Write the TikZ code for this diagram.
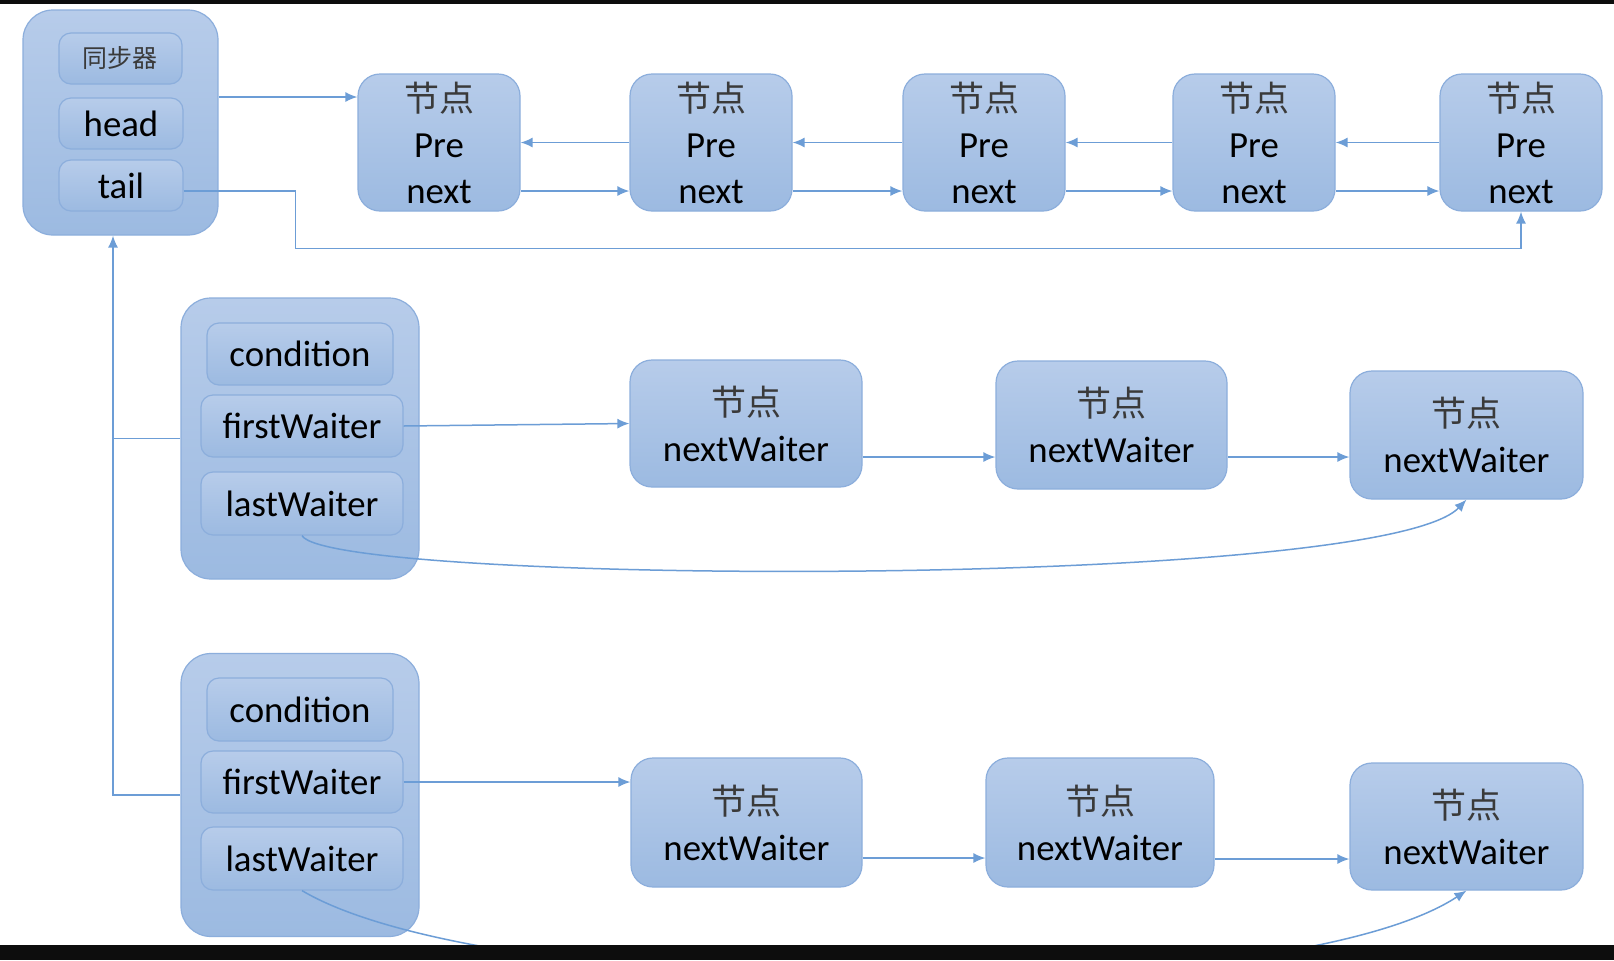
\documentclass[tikz,border=0pt]{standalone}
\usepackage{fontspec}
\setmainfont{Carlito}
\newfontfamily\cjk{Noto Sans CJK SC}
\usepackage{xcolor}
\usepackage{tikz}
\usetikzlibrary{calc,arrows.meta}

\definecolor{boxtop}{HTML}{B7CCEA}
\definecolor{boxbot}{HTML}{9CBAE1}
\definecolor{boxline}{HTML}{8CAEDC}
\definecolor{linkblue}{HTML}{6C9DD6}
\definecolor{cjkgray}{HTML}{3A3A3A}

\newcommand{\jiedian}{{\cjk\color{cjkgray}\fontsize{17.5}{23}\selectfont 节点}}

\tikzset{
  box/.style={draw=boxline, line width=0.6pt, top color=boxtop, bottom color=boxbot,
    rounded corners=11pt, inner sep=0, align=center, font=\fontsize{18.4}{23}\selectfont},
  field/.style={box, rounded corners=6pt},
  holder/.style={box, rounded corners=15pt},
  wire/.style={draw=linkblue, line width=0.75pt},
  link/.style={wire, -{Latex[length=6pt,width=5pt]}},
}

\begin{document}
\begin{tikzpicture}[x=0.5pt, y=-0.5pt]

        \fill[white] (0,0) rectangle (1614,960);
        \useasboundingbox (0,0) rectangle (1614,960);

        % synchronizer
        \node [holder, minimum width=97.5pt, minimum height=112.5pt] (sync) at (120.5,122.5) {};
        \node [field, minimum width=61.5pt, minimum height=25.5pt] (name) at (120.5,58.5)
          {\cjk\color{cjkgray}\fontsize{12.5}{14}\selectfont 同步器};
        \node [field, minimum width=62pt, minimum height=25.5pt] (head) at (121,123.5) {head};
        \node [field, minimum width=62pt, minimum height=25.5pt] (tail) at (121,185.5) {tail};

        % sync queue
        \foreach \i/\x in {1/439,2/711,3/984,4/1254,5/1521}
          \node [box, minimum width=81pt, minimum height=68.5pt] (n\i) at (\x,142.5) {\jiedian\\Pre\\next};

        \draw [link] ([yshift=12.75pt]sync.east) -- ([yshift=22.75pt]n1.west);
        \foreach \i in {1,...,4} {
          \pgfmathtruncatemacro\j{\i+1}
          \draw [link] (n\j.west) -- (n\i.east);
          \draw [link] ([yshift=-24.25pt]n\i.east) -- ([yshift=-24.25pt]n\j.west);
        }
        \draw [link] ([yshift=-2.75pt]tail.east) -- ++(112,0) |- ($(n5.south)+(0,37)$) -- (n5.south);

        % first condition
        \node [holder, minimum width=119pt, minimum height=140.5pt] (cond1) at (300,438.5) {};
        \node [field, minimum width=93pt, minimum height=31pt] (cn1) at (300,354) {condition};
        \node [field, minimum width=101pt, minimum height=31pt] (fw1) at (302,426) {firstWaiter};
        \node [field, minimum width=101pt, minimum height=31.5pt] (lw1) at (302,503.5) {lastWaiter};

        \node [box, minimum width=116pt, minimum height=63.5pt] (a1) at (746,423.5) {\jiedian\\nextWaiter};
        \node [box, minimum width=115.5pt, minimum height=64pt] (b1) at (1111.5,425) {\jiedian\\nextWaiter};
        \node [box, minimum width=116.5pt, minimum height=64pt] (c1) at (1466.5,435) {\jiedian\\nextWaiter};

        \draw [link] (fw1.east) -- (a1.west);
        \draw [link] ([yshift=-16.75pt]a1.east) -- ([yshift=-16pt]b1.west);
        \draw [link] ([yshift=-16pt]b1.east) -- ([yshift=-11pt]c1.west);
        \draw [link] (lw1.south) .. controls (330,585) and (1380,590) .. (c1.south);

        % second condition
        \node [holder, minimum width=119pt, minimum height=141.5pt] (cond2) at (300,795) {};
        \node [field, minimum width=93pt, minimum height=31.5pt] (cn2) at (300,709.5) {condition};
        \node [field, minimum width=101pt, minimum height=31pt] (fw2) at (302,782) {firstWaiter};
        \node [field, minimum width=101pt, minimum height=31.5pt] (lw2) at (302,858.5) {lastWaiter};

        \node [box, minimum width=115.5pt, minimum height=64.5pt] (a2) at (746.5,822.5) {\jiedian\\nextWaiter};
        \node [box, minimum width=114pt, minimum height=64.5pt] (b2) at (1100,822.5) {\jiedian\\nextWaiter};
        \node [box, minimum width=116.5pt, minimum height=63.5pt] (c2) at (1466.5,826.5) {\jiedian\\nextWaiter};

        \draw [link] (fw2.east) -- (fw2.east -| a2.west);
        \draw [link] ([yshift=-17.75pt]a2.east) -- ([yshift=-17.75pt]b2.west);
        \draw [link] ([yshift=-18.25pt]b2.east) -- ([yshift=-16.25pt]c2.west);
        \begin{scope}
          \clip (0,0) rectangle (1614,945);
          \draw [link] (lw2.south) .. controls (495,1005) and (1285,1010) .. (c2.south);
        \end{scope}

        % conditions back to synchronizer
        \coordinate (bus) at ($(sync.south)+(-7.5,0)$);
        \draw [wire] (cond1.west) -- (cond1.west -| bus);
        \draw [link] (cond2.west) -| (bus);

        % screen edges
        \fill [black!95] (0,0) rectangle (1614,4);
        \fill [black!95] (0,945) rectangle (1614,960);

\end{tikzpicture}
\end{document}
